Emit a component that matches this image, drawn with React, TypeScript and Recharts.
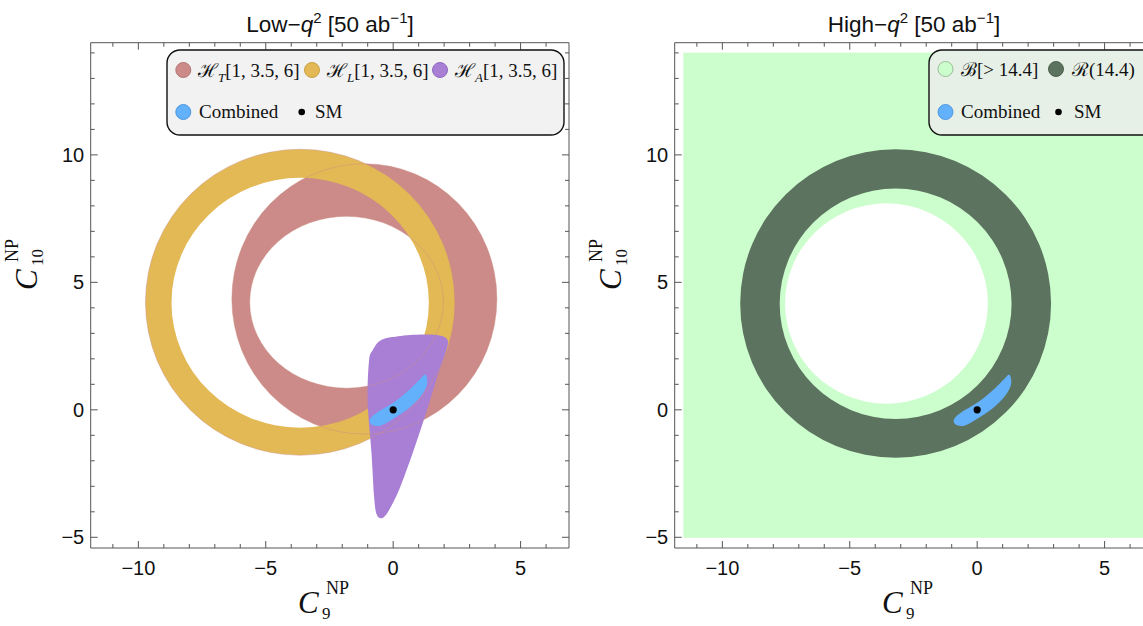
import React from 'react';
import { ScatterChart, Scatter, XAxis, YAxis, ReferenceArea } from 'recharts';

// plot ranges and frame ticks (C9, C10 units)
const X_DOMAIN: [number, number] = [-11.87, 6.9];
const Y_DOMAIN: [number, number] = [-5.42, 14.4];
const X_TICKS = [-11, -10, -9, -8, -7, -6, -5, -4, -3, -2, -1, 0, 1, 2, 3, 4, 5, 6];
const Y_TICKS = [-5, -4, -3, -2, -1, 0, 1, 2, 3, 4, 5, 6, 7, 8, 9, 10, 11, 12, 13, 14];
const MAJOR = 5;

// Standard Model point
const SM = [{ x: 0, y: 0 }];

// low-q2 regions, ellipses as [cx, cy, rx, ry]
const HT_OUTER = [-1.13, 4.35, 5.2, 5.3];
const HT_HOLE = [-1.83, 4.22, 3.8, 3.37];
const HL_OUTER = [-3.65, 4.22, 6.07, 6.0];
const HL_HOLE = [-3.65, 4.2, 5.05, 4.9];
const HA_EDGE = [
  [-0.95, 1.9], [-0.8, 2.35], [-0.45, 2.75], [0.3, 2.9], [1.3, 2.95], [1.9, 2.9], [2.15, 2.7],
  [2.05, 2.2], [1.7, 1.2], [1.3, -0.1], [0.8, -1.6], [0.25, -3.1], [-0.2, -4.0], [-0.45, -4.25],
  [-0.65, -4.1], [-0.75, -3.4], [-0.85, -1.7], [-1.0, 0.3],
];
const COMBINED_EDGE = [
  [1.27, 1.38], [1.33, 1.0], [1.1, 0.55], [0.6, 0.05], [0.0, -0.35], [-0.5, -0.62],
  [-0.85, -0.58], [-0.9, -0.35], [-0.55, -0.05], [0.1, 0.35], [0.7, 0.85], [1.05, 1.2],
];

// high-q2 regions
const B_BOX = [-11.53, 7.5, -5.02, 14.01];
const B_HOLE = [-3.56, 4.17, 3.98, 3.93];
const R_OUTER = [-3.2, 4.17, 6.1, 6.05];
const R_HOLE = [-3.2, 4.16, 4.55, 4.52];

const RED = '#cc8a88';
const YELLOW = '#e3b955';
const PURPLE = '#a97fd6';
const BLUE = '#63b0fb';
const DARK = '#5c735f';
const LIGHT = '#ccfdcc';
const FRAME = '#555';

type Box = { x1: number; x2: number; y1: number; y2: number };
type Sc = { sx: number; sy: number; px: (v: number) => number; py: (v: number) => number };

const ellBox = (e: number[]): Box => ({ x1: e[0] - e[2], x2: e[0] + e[2], y1: e[1] - e[3], y2: e[1] + e[3] });
const ptsBox = (p: number[][]): Box => ({
  x1: Math.min(...p.map((q) => q[0])),
  x2: Math.max(...p.map((q) => q[0])),
  y1: Math.min(...p.map((q) => q[1])),
  y2: Math.max(...p.map((q) => q[1])),
});

// pixel mapping taken from the rectangle recharts computed for the box
function scaler(r: any, b: Box): Sc {
  const sx = r.width / (b.x2 - b.x1);
  const sy = r.height / (b.y2 - b.y1);
  return { sx, sy, px: (v) => r.x + (v - b.x1) * sx, py: (v) => r.y + (b.y2 - v) * sy };
}

const ellD = (s: Sc, e: number[]) => {
  const cx = s.px(e[0]), cy = s.py(e[1]), rx = e[2] * s.sx, ry = e[3] * s.sy;
  return `M${cx - rx},${cy}A${rx},${ry} 0 1 0 ${cx + rx},${cy}A${rx},${ry} 0 1 0 ${cx - rx},${cy}Z`;
};

const smoothD = (s: Sc, pts: number[][]) => {
  const p = pts.map((q) => [s.px(q[0]), s.py(q[1])]);
  const n = p.length;
  let d = `M${p[0][0]},${p[0][1]}`;
  for (let i = 0; i < n; i++) {
    const a = p[(i - 1 + n) % n], b = p[i], c = p[(i + 1) % n], e = p[(i + 2) % n];
    d += `C${b[0] + (c[0] - a[0]) / 6},${b[1] + (c[1] - a[1]) / 6} ${c[0] - (e[0] - b[0]) / 6},${c[1] - (e[1] - b[1]) / 6} ${c[0]},${c[1]}`;
  }
  return d + 'Z';
};

const region = (key: string, box: Box, draw: (s: Sc) => React.ReactElement, overflow: any = 'visible') => (
  <ReferenceArea
    key={key}
    xAxisId="b"
    yAxisId="l"
    x1={box.x1}
    x2={box.x2}
    y1={box.y1}
    y2={box.y2}
    ifOverflow={overflow}
    shape={(r: any) => draw(scaler(r, box))}
  />
);

const ring = (key: string, outer: number[], hole: number[], fill: string) =>
  region(key, ellBox(outer), (s) => <path d={ellD(s, outer) + ellD(s, hole)} fill={fill} fillRule="evenodd" />);

const blob = (key: string, pts: number[][], fill: string) =>
  region(key, ptsBox(pts), (s) => <path d={smoothD(s, pts)} fill={fill} />);

const tickLen = (v: number) => (v % MAJOR === 0 ? 7 : 4);
const fmt = (v: number) => (v < 0 ? `\u2212${-v}` : `${v}`);

const BottomTick = (p: any) => (
  <g>
    <line x1={p.x} x2={p.x} y1={p.y} y2={p.y - tickLen(p.payload.value)} stroke={FRAME} />
    {p.payload.value % MAJOR === 0 && (
      <text x={p.x} y={p.y + 27} textAnchor="middle" fontSize={20} fill="#111">{fmt(p.payload.value)}</text>
    )}
  </g>
);
const TopTick = (p: any) => (
  <line x1={p.x} x2={p.x} y1={p.y} y2={p.y + tickLen(p.payload.value)} stroke={FRAME} />
);
const LeftTick = (p: any) => (
  <g>
    <line x1={p.x} x2={p.x + tickLen(p.payload.value)} y1={p.y} y2={p.y} stroke={FRAME} />
    {p.payload.value % MAJOR === 0 && (
      <text x={p.x - 6.5} y={p.y + 7} textAnchor="end" fontSize={20} fill="#111">{fmt(p.payload.value)}</text>
    )}
  </g>
);
const RightTick = (p: any) => (
  <line x1={p.x} x2={p.x - tickLen(p.payload.value)} y1={p.y} y2={p.y} stroke={FRAME} />
);

const SmDot = (p: any) => <circle cx={p.cx} cy={p.cy} r={3.6} fill="#000" />;

function Panel({ left, children }: { left: number; children: React.ReactNode }) {
  const common = { type: 'number' as const, allowDataOverflow: true, interval: 0 as const, tickLine: false, tickSize: 0, tickMargin: 0, axisLine: { stroke: FRAME } };
  return (
    <div style={{ position: 'absolute', left, top: 0 }}>
      <ScatterChart width={600} height={626} margin={{ top: 41.7, right: 30, bottom: 0, left: 0 }}>
        <XAxis xAxisId="b" dataKey="x" domain={X_DOMAIN} ticks={X_TICKS} tick={BottomTick} height={78} {...common} />
        <XAxis xAxisId="t" dataKey="x" orientation="top" domain={X_DOMAIN} ticks={X_TICKS} tick={TopTick} height={1} {...common} />
        <YAxis yAxisId="l" dataKey="y" domain={Y_DOMAIN} ticks={Y_TICKS} tick={LeftTick} width={90.7} {...common} />
        <YAxis yAxisId="r" dataKey="y" orientation="right" domain={Y_DOMAIN} ticks={Y_TICKS} tick={RightTick} width={1} {...common} />
        {children}
        <Scatter xAxisId="b" yAxisId="l" data={SM} shape={SmDot} isAnimationActive={false} />
      </ScatterChart>
    </div>
  );
}

const SERIF = 'Liberation Serif, DejaVu Serif, serif';

const AxisName = ({ x, y, sub, rot }: { x: number; y: number; sub: string; rot?: boolean }) => (
  <g transform={`translate(${x},${y})${rot ? ' rotate(-90)' : ''}`} fontFamily={SERIF} fill="#111">
    <text x={0} y={0} fontSize={31} fontStyle="italic">C</text>
    <text x={28} y={-19} fontSize={18}>NP</text>
    <text x={24} y={6} fontSize={17}>{sub}</text>
  </g>
);

const Title = ({ x, label }: { x: number; label: string }) => (
  <text x={x} y={32} textAnchor="middle" fontSize={22.5} fill="#111">
    {label}{'\u2212'}<tspan fontStyle="italic">q</tspan>
    <tspan dy={-9} fontSize={15}>2</tspan>
    <tspan dy={9}> [50 ab</tspan>
    <tspan dy={-9} fontSize={15}>{'\u2212'}1</tspan>
    <tspan dy={9}>]</tspan>
  </text>
);

const Script = ({ x, y, sym, sub, rest }: { x: number; y: number; sym: string; sub?: string; rest: string }) => (
  <text x={x} y={y} fontFamily={SERIF} fontSize={19} fill="#111">
    {sym}
    {sub && <tspan dy={5} fontSize={13} fontStyle="italic">{sub}</tspan>}
    <tspan dy={sub ? -5 : 0}>{rest}</tspan>
  </text>
);

export default function App() {
  return (
    <div style={{ position: 'absolute', left: 0, top: 0, width: 1143, height: 626, overflow: 'hidden', background: '#fff', fontFamily: 'Liberation Sans, Arial, sans-serif' }}>
      <Panel left={0}>
        {ring('ht', HT_OUTER, HT_HOLE, RED)}
        {ring('hl', HL_OUTER, HL_HOLE, YELLOW)}
        {blob('ha', HA_EDGE, PURPLE)}
        {region('seams', ellBox(HL_OUTER), (s) => (
          <path d={ellD(s, HT_OUTER) + ellD(s, HT_HOLE) + ellD(s, HL_OUTER)} fill="none" stroke="#c98f80" strokeOpacity={0.45} strokeWidth={1} />
        ))}
        {blob('comb', COMBINED_EDGE, BLUE)}
      </Panel>
      <Panel left={584}>
        {region('bg', { x1: B_BOX[0], x2: B_BOX[1], y1: B_BOX[2], y2: B_BOX[3] }, (s) => (
          <rect x={s.px(B_BOX[0])} y={s.py(B_BOX[3])} width={(B_BOX[1] - B_BOX[0]) * s.sx} height={(B_BOX[3] - B_BOX[2]) * s.sy} fill={LIGHT} />
        ), 'hidden')}
        {ring('r', R_OUTER, R_HOLE, DARK)}
        {region('bhole', ellBox(B_HOLE), (s) => <path d={ellD(s, B_HOLE)} fill="#fff" />)}
        {blob('comb2', COMBINED_EDGE, BLUE)}
      </Panel>
      <svg width={1143} height={626} style={{ position: 'absolute', left: 0, top: 0, pointerEvents: 'none' }}>
        <Title x={330} label="Low" />
        <Title x={914} label="High" />
        <AxisName x={298} y={613} sub="9" />
        <AxisName x={882} y={613} sub="9" />
        <AxisName x={37} y={290} sub="10" rot />
        <AxisName x={621} y={290} sub="10" rot />

        <rect x={167} y={50} width={397} height={85} rx={13} fill="#f2f2f2" stroke="#111" strokeWidth={1.4} />
        <circle cx={183.3} cy={70} r={7.5} fill={RED} stroke="#b57775" />
        <Script x={198} y={76.5} sym={'\u210B'} sub="T" rest="[1, 3.5, 6]" />
        <circle cx={312} cy={70} r={7.5} fill={YELLOW} stroke="#c9a140" />
        <Script x={327} y={76.5} sym={'\u210B'} sub="L" rest="[1, 3.5, 6]" />
        <circle cx={440} cy={70} r={7.5} fill={PURPLE} stroke="#9068c0" />
        <Script x={455} y={76.5} sym={'\u210B'} sub="A" rest="[1, 3.5, 6]" />
        <circle cx={183.3} cy={112} r={7.5} fill={BLUE} stroke="#4f98e0" />
        <Script x={199} y={118} sym="" rest="Combined" />
        <circle cx={301.7} cy={112} r={3.3} fill="#000" />
        <Script x={315} y={118} sym="" rest="SM" />

        <rect x={929} y={50} width={240} height={85} rx={13} fill="#e7f0e7" stroke="#111" strokeWidth={1.4} />
        <circle cx={945.5} cy={69} r={7.5} fill={LIGHT} stroke="#9bbf9b" />
        <Script x={961} y={75.5} sym={'\u212C'} rest="[> 14.4]" />
        <circle cx={1056} cy={69} r={7.5} fill={DARK} stroke="#4c6250" />
        <Script x={1072} y={75.5} sym={'\u211B'} rest="(14.4)" />
        <circle cx={945.5} cy={112} r={7.5} fill={BLUE} stroke="#4f98e0" />
        <Script x={961} y={118} sym="" rest="Combined" />
        <circle cx={1058.5} cy={112} r={3.3} fill="#000" />
        <Script x={1074} y={118} sym="" rest="SM" />
      </svg>
    </div>
  );
}
